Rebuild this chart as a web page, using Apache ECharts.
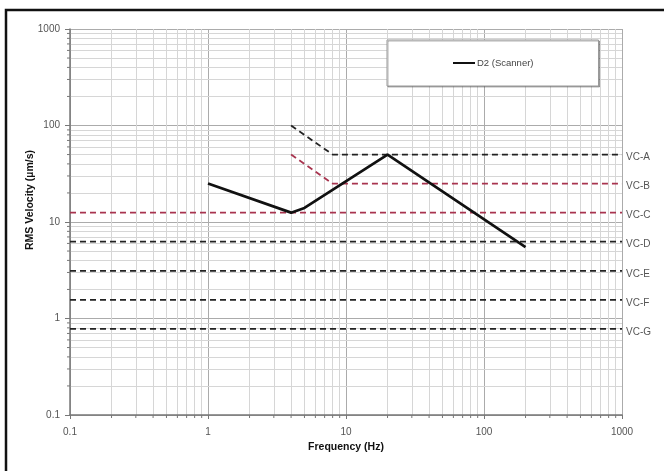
<!DOCTYPE html>
<html>
<head>
<meta charset="utf-8">
<script src="https://cdn.jsdelivr.net/npm/echarts@6/dist/echarts.min.js"></script>
<style>
  html, body { margin: 0; padding: 0; background: #fff; }
  #chart { width: 664px; height: 471px; }
</style>
</head>
<body>
<div id="chart"></div>
<script>
// Measured spectrum of the scanner (D2)
const scannerFreq = [1, 4, 5, 20, 200];
const scannerVel = [25, 12.5, 14, 50, 5.5];

// Vibration criterion curves (VC-A .. VC-G), RMS velocity in µm/s
const vcNames = ['VC-A', 'VC-B', 'VC-C', 'VC-D', 'VC-E', 'VC-F', 'VC-G'];
const vcLevels = [50, 25, 12.5, 6.25, 3.12, 1.56, 0.78];
// Low-frequency ramps of VC-A and VC-B: [start frequency, start velocity], then flat from 8 Hz
const vcRampStart = [[4, 100], [4, 50], null, null, null, null, null];
const vcRampEndFreq = 8;
const vcColors = ['#222', '#a8344f', '#a8344f', '#222', '#222', '#222', '#222'];

// Axis ranges and tick labels
const xMin = 0.1, xMax = 1000, yMin = 0.1, yMax = 1000;
const xTickLabels = ['0.1', '1', '10', '100', '1000'];
const yTickLabels = ['0.1', '1', '10', '100', '1000'];
const minorSteps = [2, 3, 4, 5, 6, 7, 8, 9];
const decades = [0.1, 1, 10, 100];

// Intermediate (2..9) grid positions within each decade
const minorVals = [];
decades.forEach(d => minorSteps.forEach(m => minorVals.push(+(d * m).toPrecision(3))));

const labelFor = (labels, v) => {
  const i = Math.round(Math.log10(v)) + 1;
  return labels[i] !== undefined ? labels[i] : '';
};

const series = [];

// Minor grid lines (kept underneath every curve)
series.push({
  type: 'line', data: [], silent: true, z: 0,
  markLine: {
    z: 0, silent: true, symbol: 'none', animation: false,
    label: { show: false },
    lineStyle: { color: '#d6d6d6', width: 1, type: 'solid' },
    data: minorVals.map(v => ({ xAxis: v })).concat(minorVals.map(v => ({ yAxis: v })))
  }
});

// Minor tick marks on both axes
const tickStroke = '#777';
series.push({
  type: 'custom', silent: true, z: 4, clip: false,
  data: minorVals.map(v => [v, yMin]),
  renderItem: (params, api) => {
    const p = api.coord([api.value(0), api.value(1)]);
    return { type: 'line', shape: { x1: p[0], y1: p[1], x2: p[0], y2: p[1] + 3 },
             style: { stroke: tickStroke, lineWidth: 1 } };
  }
});
series.push({
  type: 'custom', silent: true, z: 4, clip: false,
  data: minorVals.map(v => [xMin, v]),
  renderItem: (params, api) => {
    const p = api.coord([api.value(0), api.value(1)]);
    return { type: 'line', shape: { x1: p[0] - 3, y1: p[1], x2: p[0], y2: p[1] },
             style: { stroke: tickStroke, lineWidth: 1 } };
  }
});

// Criterion curves
vcNames.forEach((name, i) => {
  const pts = [];
  if (vcRampStart[i]) {
    pts.push(vcRampStart[i]);
    pts.push([vcRampEndFreq, vcLevels[i]]);
  } else {
    pts.push([xMin, vcLevels[i]]);
  }
  pts.push([xMax, vcLevels[i]]);
  series.push({
    name: name, type: 'line', data: pts, symbol: 'none', z: 10, silent: true,
    animation: false,
    lineStyle: { color: vcColors[i], width: 1.8, type: [6, 4] },
    endLabel: {
      show: true, formatter: name, distance: 4, offset: [0, 3],
      color: '#555', fontSize: 10, fontFamily: 'Liberation Sans, Arial, sans-serif'
    }
  });
});

// Scanner spectrum
series.push({
  name: 'D2 (Scanner)', type: 'line', symbol: 'none', z: 12, animation: false,
  data: scannerFreq.map((f, i) => [f, scannerVel[i]]),
  lineStyle: { color: '#111', width: 2.7 },
  itemStyle: { color: '#111' }
});

const axisFont = { color: '#555', fontSize: 10, fontFamily: 'Liberation Sans, Arial, sans-serif' };

const option = {
  backgroundColor: '#fff',
  animation: false,
  grid: { left: 70, right: 42, top: 29, bottom: 56, containLabel: false },
  legend: {
    data: [{ name: 'D2 (Scanner)', icon: 'rect' }],
    left: 387, top: 40,
    padding: [18, 65, 18, 66],
    backgroundColor: '#fff',
    borderColor: '#999', borderWidth: 1,
    shadowColor: 'rgba(0,0,0,0.3)', shadowOffsetX: 1, shadowOffsetY: 1, shadowBlur: 0,
    itemWidth: 22, itemHeight: 2, itemGap: 0,
    textStyle: { fontSize: 9.5, color: '#444', fontFamily: 'Liberation Sans, Arial, sans-serif', lineHeight: 2, padding: [0, 0, 0, -3] }
  },
  xAxis: {
    type: 'log', logBase: 10, min: xMin, max: xMax, interval: 1,
    name: 'Frequency (Hz)', nameLocation: 'middle', nameGap: 26,
    nameTextStyle: { color: '#111', fontSize: 10.5, fontWeight: 'bold', fontFamily: 'Liberation Sans, Arial, sans-serif' },
    axisLine: { show: true, lineStyle: { color: '#777', width: 1.5 } },
    axisTick: { show: true, length: 4, lineStyle: { color: '#777' } },
    axisLabel: Object.assign({ margin: 12, formatter: v => labelFor(xTickLabels, v) }, axisFont),
    splitLine: { show: true, lineStyle: { color: '#ababab', width: 1 } },
    minorTick: { show: false }, minorSplitLine: { show: false }
  },
  yAxis: {
    type: 'log', logBase: 10, min: yMin, max: yMax, interval: 1,
    axisLine: { show: true, lineStyle: { color: '#777', width: 1.5 } },
    axisTick: { show: true, length: 5, lineStyle: { color: '#777' } },
    axisLabel: Object.assign({ margin: 10, formatter: v => labelFor(yTickLabels, v) }, axisFont),
    splitLine: { show: true, lineStyle: { color: '#ababab', width: 1 } },
    minorTick: { show: false }, minorSplitLine: { show: false }
  },
  graphic: [
    {
      type: 'text', x: 30, y: 200, rotation: Math.PI / 2,
      style: {
        text: 'RMS Velocity (µm/s)', fill: '#111',
        font: 'bold 10.5px "Liberation Sans", Arial, sans-serif',
        textAlign: 'center', textVerticalAlign: 'middle'
      }
    },
    {
      type: 'polyline', silent: true,
      shape: { points: [[6, 471], [6, 10], [664, 10]] },
      style: { stroke: '#111', lineWidth: 2.5, fill: null }
    }
  ],
  series: series
};

const chart = echarts.init(document.getElementById('chart'), null, { renderer: 'canvas' });
chart.setOption(option);
</script>
</body>
</html>
